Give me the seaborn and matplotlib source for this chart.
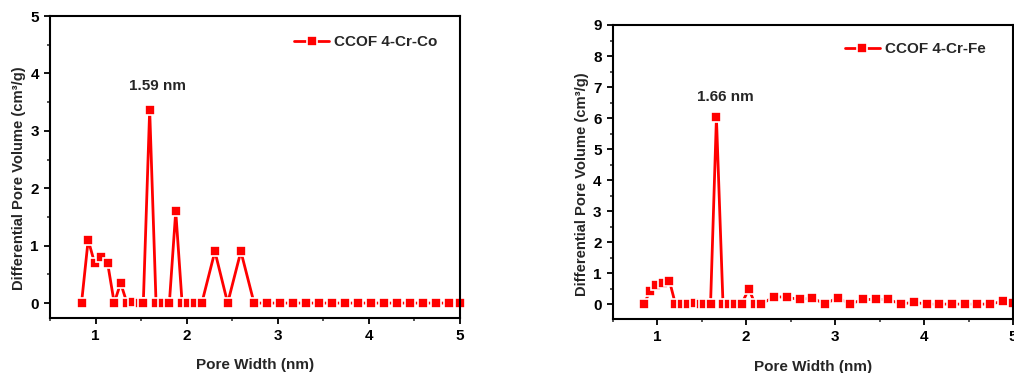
import numpy as np
import pandas as pd
import matplotlib
matplotlib.use("Agg")
import matplotlib.pyplot as plt
import seaborn as sns
from matplotlib.ticker import MultipleLocator

# ---- data ----
x_co = [0.846, 0.919, 0.989, 1.062, 1.132, 1.205, 1.275, 1.345, 1.414, 1.488, 1.524,
        1.594, 1.664, 1.737, 1.810, 1.880, 1.950, 2.020, 2.090, 2.166, 2.310, 2.450,
        2.595, 2.740, 2.881, 3.024, 3.167, 3.310, 3.453, 3.596, 3.739, 3.882, 4.025,
        4.168, 4.311, 4.454, 4.597, 4.740, 4.883, 5.000]
y_co = [0.0, 1.10, 0.70, 0.81, 0.70, 0.0, 0.35, 0.0, 0.02, 0.0, 0.0,
        3.37, 0.0, 0.0, 0.0, 1.60, 0.0, 0.0, 0.0, 0.0, 0.90, 0.0,
        0.90, 0.0, 0.0, 0.0, 0.0, 0.0, 0.0, 0.0, 0.0, 0.0, 0.0,
        0.0, 0.0, 0.0, 0.0, 0.0, 0.0, 0.0]

x_fe = [0.850, 0.920, 0.990, 1.064, 1.138, 1.205, 1.276, 1.347, 1.420, 1.490, 1.527,
        1.600, 1.666, 1.740, 1.810, 1.880, 1.950, 2.030, 2.100, 2.170, 2.315, 2.457,
        2.600, 2.745, 2.885, 3.030, 3.170, 3.310, 3.455, 3.600, 3.740, 3.885, 4.030,
        4.170, 4.310, 4.460, 4.600, 4.745, 4.886, 5.000]
y_fe = [0.0, 0.41, 0.60, 0.68, 0.75, 0.0, 0.0, 0.0, 0.04, 0.0, 0.0,
        0.0, 6.02, 0.0, 0.0, 0.0, 0.0, 0.50, 0.0, 0.0, 0.24, 0.22,
        0.15, 0.20, 0.0, 0.21, 0.0, 0.15, 0.15, 0.15, 0.0, 0.06, 0.0,
        0.0, 0.0, 0.0, 0.0, 0.0, 0.09, 0.04]

label_co = "CCOF 4-Cr-Co"
label_fe = "CCOF 4-Cr-Fe"
peak_co = "1.59 nm"
peak_fe = "1.66 nm"
xlabel = "Pore Width (nm)"
ylabel = "Differential Pore Volume (cm³/g)"

# ---- style ----
sns.set_style("ticks")
plt.rcParams['font.family'] = ['Liberation Sans', 'DejaVu Sans']
plt.rcParams['font.weight'] = 'bold'
plt.rcParams['axes.labelweight'] = 'bold'

W, H = 1014, 373
fig = plt.figure(figsize=(W / 100, H / 100), dpi=100)

def px_axes(l, t, r, b):
    return fig.add_axes([l / W, 1 - b / H, (r - l) / W, (b - t) / H])

ax1 = px_axes(50, 16, 460, 318)
ax2 = px_axes(612.7, 25, 1013, 319.3)

red = '#FF0000'

def draw(ax, x, y, label, ylim, ymaj, peak_text, peak_xy, leg_anchor, ylab_coords):
    df = pd.DataFrame({'x': x, 'y': y})
    sns.lineplot(data=df, x='x', y='y', ax=ax, color=red, lw=2.0, marker='s',
                 markersize=7.0, markeredgecolor='white', markeredgewidth=1.2,
                 sort=False, estimator=None, label=label, clip_on=False)
    ax.set_xlim(0.5, 5)
    ax.xaxis.set_major_locator(MultipleLocator(1))
    ax.xaxis.set_minor_locator(MultipleLocator(0.5))
    ax.yaxis.set_minor_locator(MultipleLocator(ymaj / 2))
    ax.set_yticks(np.arange(0, ylim[1] + 0.01, ymaj))
    ax.set_ylim(*ylim)
    for s in ax.spines.values():
        s.set_visible(True)
        s.set_linewidth(1.5)
        s.set_color('black')
    ax.tick_params(which='major', direction='out', length=4, width=1.3,
                   labelsize=11, pad=4, colors='black')
    ax.tick_params(which='minor', direction='out', length=2.2, width=1.1)
    for t in ax.get_xticklabels() + ax.get_yticklabels():
        t.set_fontweight('bold')
    ax.set_xlabel(xlabel, fontsize=11, fontweight='bold', labelpad=11)
    ax.set_ylabel(ylabel, fontsize=10.6, fontweight='bold')
    ax.yaxis.set_label_coords(*ylab_coords)
    ax.text(peak_xy[0], peak_xy[1], peak_text, fontsize=11, fontweight='bold',
            ha='center', va='center')
    ax.legend(loc='center left', bbox_to_anchor=leg_anchor, frameon=False,
              borderpad=0, borderaxespad=0, handlelength=2.3,
              handletextpad=0.35, prop={'weight': 'bold', 'size': 11})
    ax.set_facecolor('white')

draw(ax1, x_co, y_co, label_co, (-0.26, 5), 1, peak_co, (1.68, 3.78),
     (0.595, 0.914), (-0.058, 0.464))
draw(ax2, x_fe, y_fe, label_fe, (-0.49, 9), 1, peak_fe, (1.766, 6.67),
     (0.580, 0.918), (-0.058, 0.46))

fig.savefig('out.png', dpi=100, facecolor='white')
